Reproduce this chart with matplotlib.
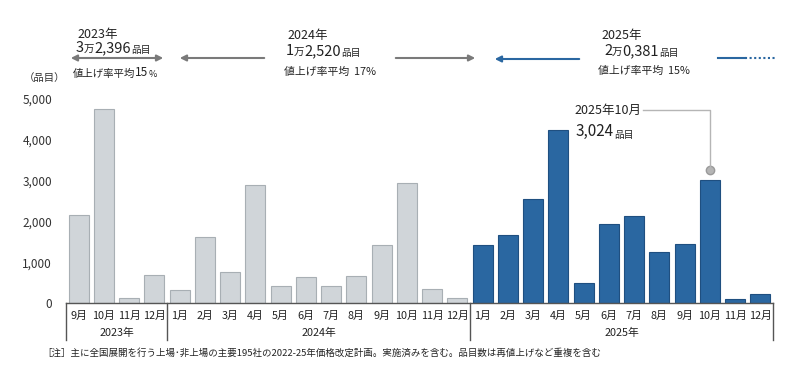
import matplotlib.pyplot as plt
from matplotlib.lines import Line2D
from matplotlib.patches import FancyArrowPatch

plt.rcParams['font.family'] = ['Noto Sans CJK JP', 'DejaVu Sans']

months_2023 = ['9月', '10月', '11月', '12月']
months_full = ['1月', '2月', '3月', '4月', '5月', '6月', '7月', '8月', '9月', '10月', '11月', '12月']
values_2023 = [2150, 4760, 120, 675]
values_2024 = [310, 1625, 755, 2900, 425, 630, 410, 670, 1420, 2940, 345, 115]
values_2025 = [1420, 1665, 2550, 4245, 490, 1945, 2125, 1250, 1455, 3024, 100, 210]
years = ['2023年', '2024年', '2025年']
yticks = [0, 1000, 2000, 3000, 4000, 5000]

labels = months_2023 + months_full + months_full
values = values_2023 + values_2024 + values_2025
n23, n24 = len(values_2023), len(values_2024)
colors = ['#d0d5d9'] * (n23 + n24) + ['#2a67a1'] * len(values_2025)
edges = ['#a8afb4'] * (n23 + n24) + ['#1f4f80'] * len(values_2025)

W, H = 800, 392
fig = plt.figure(figsize=(8, 3.92), dpi=100)


def fp(x, y):
    return (x / W, 1 - y / H)


ax = fig.add_axes([66 / W, 1 - 303 / H, (773 - 66) / W, (303 - 99) / H])
xs = list(range(len(values)))
ax.bar(xs, values, width=0.8, color=colors, edgecolor=edges, linewidth=0.8)
ax.set_xlim(-0.5, len(values) - 0.5)
ax.set_ylim(0, 5000)
ax.set_yticks(yticks)
ax.set_yticklabels([f'{v:,}' for v in yticks], fontsize=8.5, color='#333333')
ax.tick_params(axis='y', length=0, pad=10)
ax.set_xticks([])
for s in ['top', 'right', 'left']:
    ax.spines[s].set_visible(False)
ax.spines['bottom'].set_color('#555555')
ax.spines['bottom'].set_linewidth(1.0)

tr = ax.get_xaxis_transform()
for x, lab in zip(xs, labels):
    ax.text(x, -0.064, lab, transform=tr, ha='center', va='center', fontsize=7.8, color='#222222')
bounds = [-0.5, n23 - 0.5, n23 + n24 - 0.5, len(values) - 0.5]
for b in bounds:
    ax.plot([b, b], [0, -0.18], transform=tr, color='#555555', lw=1.0, clip_on=False)
for i, yr in enumerate(years):
    ax.text((bounds[i] + bounds[i + 1]) / 2, -0.147, yr, transform=tr, ha='center', va='center',
            fontsize=7.8, color='#222222')

fig.text(*fp(24, 78), '（品目）', fontsize=7.5, va='center', color='#333333')


def chain(x, y, parts, color='#222222'):
    # pieces of different size drawn one after another
    first = fig.text(*fp(x, y), parts[0][0], fontsize=parts[0][1], va='baseline', color=color)
    prev = first
    for t, s in parts[1:]:
        prev = ax.annotate(t, xy=(1, 0), xycoords=prev, fontsize=s, va='bottom', ha='left',
                           color=color, annotation_clip=False)
    return first


# header blocks
fig.text(*fp(77, 38), '2023年', fontsize=9, va='baseline', color='#222222')
chain(76, 52, [('3', 10.5), ('万', 7.5), ('2,396', 10.5), ('品目', 7)])
chain(73, 77, [('値上げ率平均', 7.5), ('15', 8.5), ('%', 6.5)])

fig.text(*fp(287, 39), '2024年', fontsize=9, va='baseline', color='#222222')
chain(286, 55, [('1', 10.5), ('万', 7.5), ('2,520', 10.5), ('品目', 7)])
chain(284, 75, [('値上げ率平均  17%', 7.8)])

fig.text(*fp(601, 39), '2025年', fontsize=9, va='baseline', color='#222222')
chain(604, 55, [('2', 10.5), ('万', 7.5), ('0,381', 10.5), ('品目', 7)])
chain(598, 74, [('値上げ率平均  15%', 7.8)])

grey = '#7a7a7a'
blue = '#2a67a1'


def arrow(x0, x1, y, style, color):
    fig.patches.append(FancyArrowPatch(fp(x0, y), fp(x1, y), transform=fig.transFigure,
                                       arrowstyle=style, mutation_scale=9, color=color, lw=1.5))


arrow(68, 166, 58, '<|-|>', grey)
arrow(267, 177, 58, '-|>', grey)
arrow(393, 478, 58, '-|>', grey)
arrow(582, 492, 59, '-|>', blue)
fig.lines.append(Line2D([718 / W, 745 / W], [1 - 58 / H] * 2, transform=fig.transFigure, color=blue, lw=1.5))
fig.lines.append(Line2D([745 / W, 777 / W], [1 - 58 / H] * 2, transform=fig.transFigure, color=blue, lw=1.5,
                        linestyle=(0, (1, 1.2))))

# callout for 2025年10月
peak_x = n23 + n24 + 9
ax.plot([peak_x], [values[peak_x] + 230], marker='o', ms=6, color='#b5b5b5', mec='#9a9a9a', clip_on=False)
fig.lines.append(Line2D([643 / W, 710 / W, 710 / W], [1 - 110 / H, 1 - 110 / H, 1 - 168 / H],
                        transform=fig.transFigure, color='#b5b5b5', lw=1.0))
fig.text(*fp(641, 110), '2025年10月', fontsize=9, ha='right', va='center', color='#222222')
chain(576, 136, [('3,024', 11), ('品目', 7)])

fig.text(*fp(42, 353), '［注］主に全国展開を行う上場･非上場の主要195社の2022-25年価格改定計画。実施済みを含む。品目数は再値上げなど重複を含む',
         fontsize=6.8, va='center', color='#222222')

fig.savefig('out.png', dpi=100)
